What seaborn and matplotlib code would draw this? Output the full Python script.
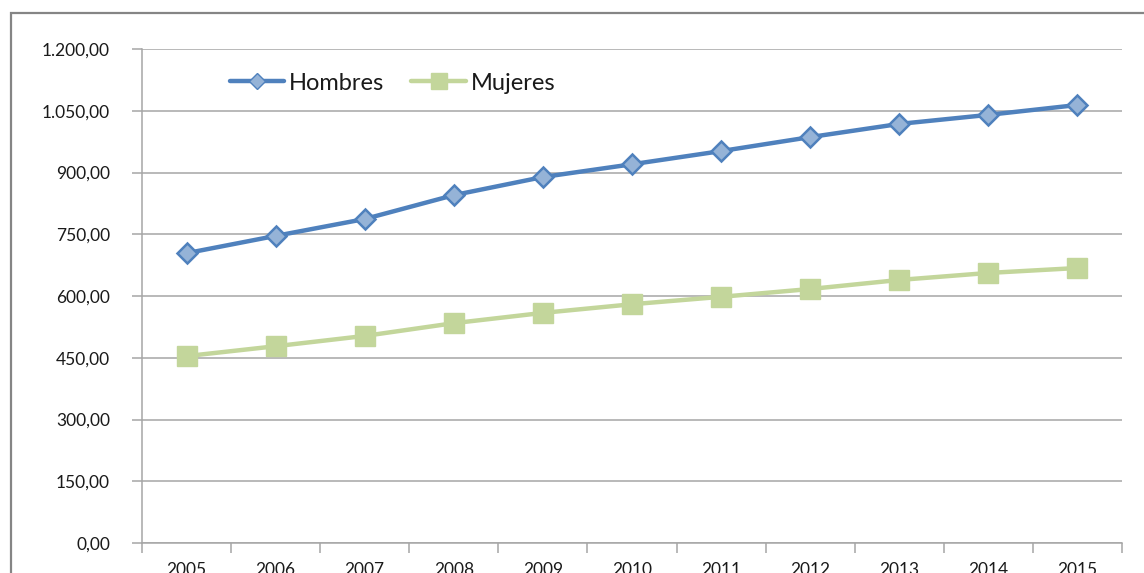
import matplotlib
matplotlib.use("Agg")
import matplotlib.pyplot as plt
import matplotlib.patches as patches
from matplotlib.lines import Line2D
from matplotlib.ticker import FuncFormatter, FixedLocator, NullFormatter
import seaborn as sns
import pandas as pd

years = [2005, 2006, 2007, 2008, 2009, 2010, 2011, 2012, 2013, 2014, 2015]
hombres = [704, 746, 787, 845, 889, 920, 952, 986, 1018, 1040, 1064]
mujeres = [454, 478, 503, 534, 559, 580, 598, 617, 639, 656, 668]
series_names = ["Hombres", "Mujeres"]

df = pd.DataFrame({
    "year": years * 2,
    "value": hombres + mujeres,
    "serie": [series_names[0]] * len(years) + [series_names[1]] * len(years),
})

sns.set_style("white")
plt.rcParams["font.family"] = ["Lato", "DejaVu Sans"]

fig = plt.figure(figsize=(11.44, 5.73), dpi=100)
ax = fig.add_axes([142 / 1144, 1 - 543 / 573, (1122 - 142) / 1144, (543 - 49) / 573])

# outer chart border (cropped)
fig.patches.append(patches.Rectangle((11 / 1144, -0.2), 1.5, 1.2 - 13 / 573,
                                     transform=fig.transFigure, fill=False,
                                     edgecolor="#858585", linewidth=1.6))

styles = {
    "Hombres": dict(color="#4F81BD", marker="D", mfc="#95B3D7", mec="#4F81BD", ms=10, mew=1.8,
                    lms=8.5),
    "Mujeres": dict(color="#C3D69B", marker="s", mfc="#C3D69B", mec="#C3D69B", ms=14, mew=1.0,
                    lms=12),
}

for name in series_names:
    st = styles[name]
    sub = df[df["serie"] == name]
    sns.lineplot(data=sub, x="year", y="value", ax=ax, color=st["color"], linewidth=3.2,
                 marker=st["marker"], markersize=st["ms"], markerfacecolor=st["mfc"],
                 markeredgecolor=st["mec"], markeredgewidth=st["mew"], legend=False,
                 zorder=3)

ax.set_xlim(years[0] - 0.5, years[-1] + 0.5)
ax.set_ylim(0, 1200)
ax.yaxis.set_major_locator(FixedLocator([i * 150 for i in range(9)]))

def fmt(v, pos):
    s = f"{v:,.2f}"
    return s.replace(",", "X").replace(".", ",").replace("X", ".")

ax.yaxis.set_major_formatter(FuncFormatter(fmt))
ax.xaxis.set_major_locator(FixedLocator(years))
ax.set_xticklabels([str(y) for y in years])
ax.xaxis.set_minor_locator(FixedLocator([y - 0.5 for y in years] + [years[-1] + 0.5]))
ax.xaxis.set_minor_formatter(NullFormatter())

ax.grid(axis="y", color="#A6A6A6", linewidth=1.1)
ax.grid(axis="x", visible=False)
for s in ["top", "right"]:
    ax.spines[s].set_visible(False)
for s in ["left", "bottom"]:
    ax.spines[s].set_color("#A6A6A6")
    ax.spines[s].set_linewidth(1.1)

ax.tick_params(axis="y", which="major", direction="out", length=7, width=1.1,
               color="#A6A6A6", pad=16, labelsize=12.5, labelcolor="#1A1A1A", left=True)
ax.tick_params(axis="x", which="major", length=0, pad=14, labelsize=12.5, labelcolor="#1A1A1A")
ax.tick_params(axis="x", which="minor", direction="out", length=7, width=1.1,
               color="#A6A6A6", bottom=True)
ax.set_xlabel("")
ax.set_ylabel("")

handles = []
for name in series_names:
    st = styles[name]
    handles.append(Line2D([], [], color=st["color"], linewidth=3.2, marker=st["marker"],
                          markersize=st["lms"], markerfacecolor=st["mfc"],
                          markeredgecolor=st["mec"], markeredgewidth=1.0))

leg = ax.legend(handles, series_names, loc="center left", bbox_to_anchor=(88 / 980, 1 - 34 / 494),
                ncol=2, frameon=False, fontsize=17, handlelength=2.3, handletextpad=0.2,
                columnspacing=1.15, borderaxespad=0, borderpad=0)
for t in leg.get_texts():
    t.set_color("#1A1A1A")

fig.savefig("out.png", dpi=100)
